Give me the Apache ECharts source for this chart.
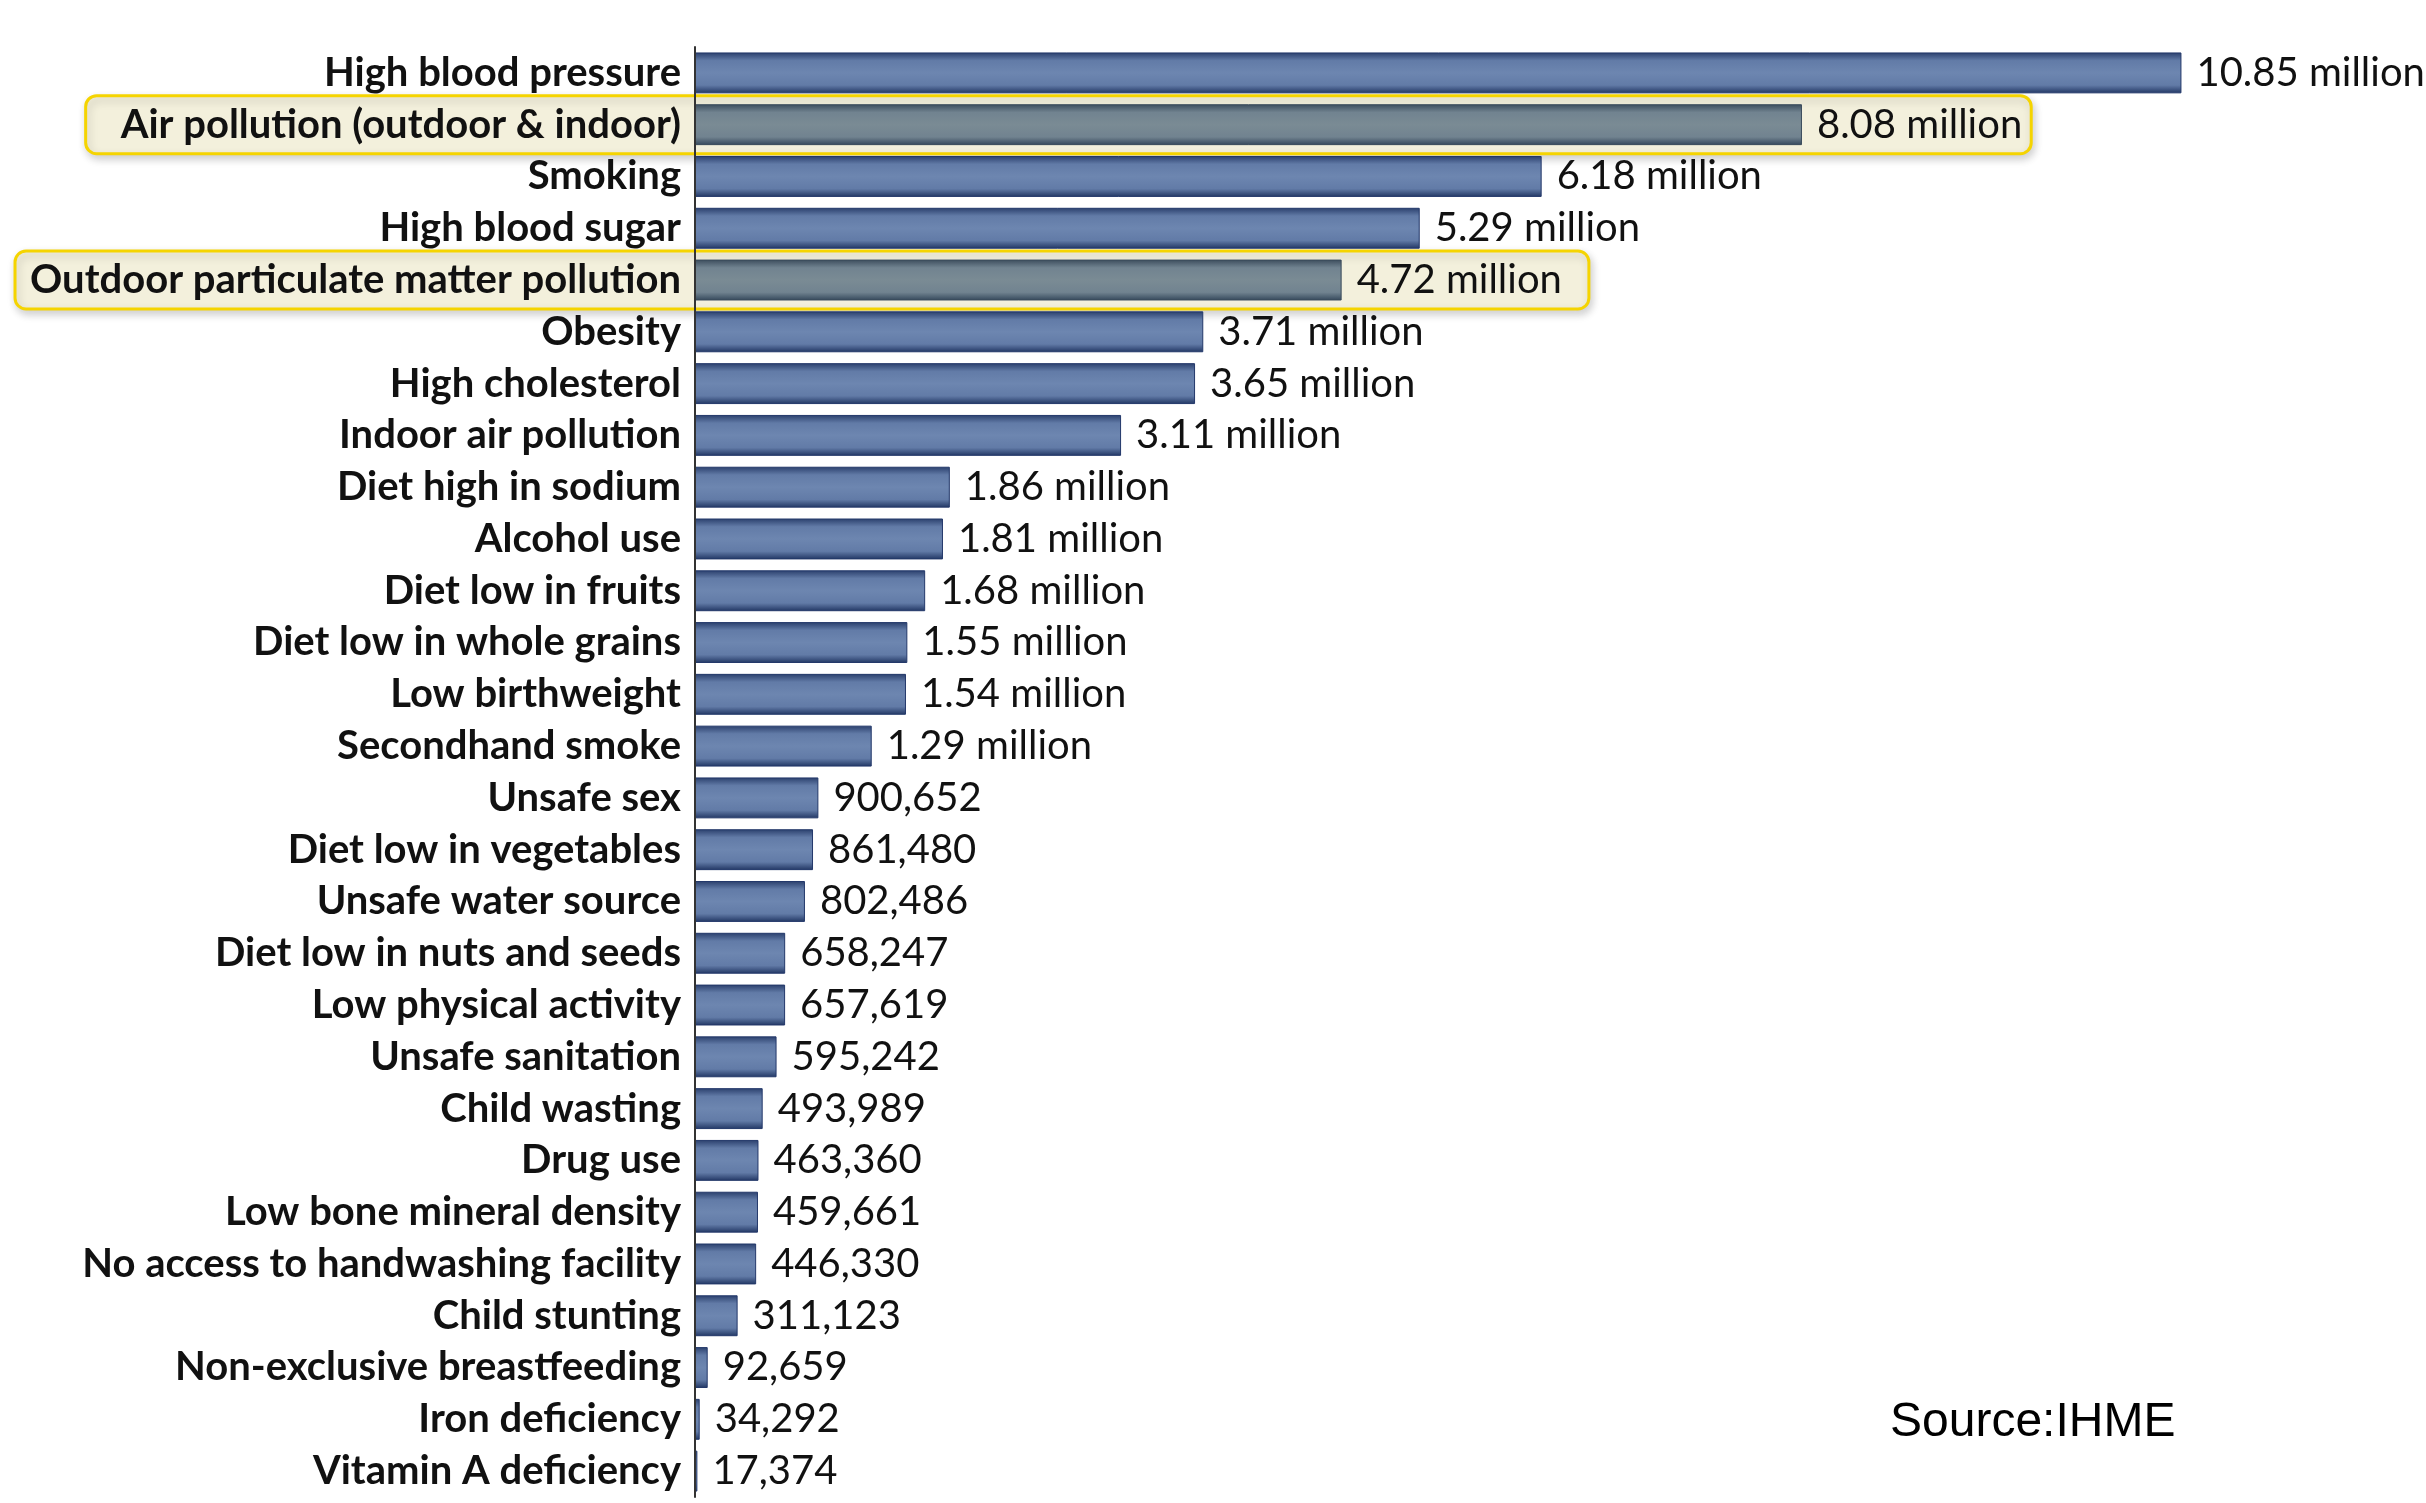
<!DOCTYPE html>
<html>
<head>
<meta charset="utf-8">
<script src="https://cdn.jsdelivr.net/npm/echarts@6/dist/echarts.min.js"></script>
<style>
html,body{margin:0;padding:0;background:#fff;}
#chart{width:2426px;height:1503px;}
</style>
</head>
<body>
<div id="chart"></div>
<script>
const categories = [
  'High blood pressure','Air pollution (outdoor & indoor)','Smoking','High blood sugar',
  'Outdoor particulate matter pollution','Obesity','High cholesterol','Indoor air pollution',
  'Diet high in sodium','Alcohol use','Diet low in fruits','Diet low in whole grains',
  'Low birthweight','Secondhand smoke','Unsafe sex','Diet low in vegetables',
  'Unsafe water source','Diet low in nuts and seeds','Low physical activity','Unsafe sanitation',
  'Child wasting','Drug use','Low bone mineral density','No access to handwashing facility',
  'Child stunting','Non-exclusive breastfeeding','Iron deficiency','Vitamin A deficiency'
];
const deaths = [
  10850000, 8080000, 6180000, 5290000,
  4720000, 3710000, 3650000, 3110000,
  1860000, 1810000, 1680000, 1550000,
  1540000, 1290000, 900652, 861480,
  802486, 658247, 657619, 595242,
  493989, 463360, 459661, 446330,
  311123, 92659, 34292, 17374
];
const highlighted = ['Air pollution (outdoor & indoor)', 'Outdoor particulate matter pollution'];
const sourceText = 'Source:IHME';

function fmt(v) {
  if (v >= 1000000) return (v / 1000000).toFixed(2) + ' million';
  return v.toLocaleString('en-US');
}

const blueGrad = new echarts.graphic.LinearGradient(0, 0, 0, 1, [
  {offset: 0, color: '#2a3f6c'},
  {offset: 0.2, color: '#627ba7'},
  {offset: 0.5, color: '#6d86b0'},
  {offset: 0.8, color: '#627ba7'},
  {offset: 1, color: '#213663'}
]);
const grayGrad = new echarts.graphic.LinearGradient(0, 0, 0, 1, [
  {offset: 0, color: '#3b4c5c'},
  {offset: 0.2, color: '#718390'},
  {offset: 0.5, color: '#7a8b94'},
  {offset: 0.8, color: '#718390'},
  {offset: 1, color: '#34475a'}
]);

const seriesData = categories.map((c, i) => {
  const hi = highlighted.indexOf(c) >= 0;
  return {
    value: deaths[i],
    itemStyle: {
      color: hi ? grayGrad : blueGrad,
      borderColor: hi ? '#3a4b5b' : '#23386a',
      borderWidth: 1
    }
  };
});

const chart = echarts.init(document.getElementById('chart'), null, {renderer: 'canvas'});

const LABEL_FONT = 'Lato';
const CAT_SIZE = 40;
const VAL_SIZE = 40;
const VAL_DIST = 15;

chart.setOption({
  backgroundColor: '#ffffff',
  animation: false,
  title: {
    text: sourceText,
    left: 1885,
    top: 1394,
    textStyle: {fontFamily: 'Liberation Sans', fontSize: 48, fontWeight: 'normal', color: '#000'}
  },
  grid: {left: 695, right: 87, top: 47, bottom: 6, containLabel: false},
  xAxis: {
    type: 'value', min: 0, max: 12000000, show: false
  },
  yAxis: {
    type: 'category',
    data: categories,
    inverse: true,
    axisLine: {show: true, lineStyle: {color: '#333', width: 2}},
    axisTick: {show: false},
    axisLabel: {
      interval: 0, hideOverlap: false,
      fontFamily: LABEL_FONT, fontWeight: 'bold', fontSize: CAT_SIZE,
      lineHeight: 44,
      color: '#111', margin: 14
    },
    z: 3
  },
  series: [{
    type: 'bar',
    data: seriesData,
    barCategoryGap: '21%',
    z: 2,
    labelLayout: {hideOverlap: false},
    label: {
      show: true, position: 'right', distance: VAL_DIST,
      fontFamily: LABEL_FONT, fontSize: VAL_SIZE, color: '#111',
      formatter: p => fmt(p.value)
    }
  }]
});

// highlight boxes behind the highlighted rows
const ctx = document.createElement('canvas').getContext('2d');
function textW(font, t) { ctx.font = font; return ctx.measureText(t).width; }
const padL = [35, 15], padR = [9, 27];
const axisX = chart.convertToPixel({xAxisIndex: 0}, 0);
const boxes = highlighted.map((name, k) => {
  const i = categories.indexOf(name);
  const cy = chart.convertToPixel({yAxisIndex: 0}, i);
  const catW = textW('bold ' + CAT_SIZE + 'px ' + LABEL_FONT, name);
  const valW = textW(VAL_SIZE + 'px ' + LABEL_FONT, fmt(deaths[i]));
  const x0 = axisX - 14 - catW - padL[k];
  const x1 = chart.convertToPixel({xAxisIndex: 0}, deaths[i]) + VAL_DIST + valW + padR[k];
  return {
    type: 'rect', z: -10, silent: true,
    shape: {x: x0, y: cy - 29, width: x1 - x0, height: 58, r: 11},
    style: {
      fill: '#f3f0dc', stroke: '#f5d400', lineWidth: 3,
      shadowBlur: 8, shadowOffsetY: 4, shadowOffsetX: 2, shadowColor: 'rgba(0,0,0,0.18)'
    }
  };
});
chart.setOption({graphic: {elements: boxes}});
</script>
</body>
</html>
